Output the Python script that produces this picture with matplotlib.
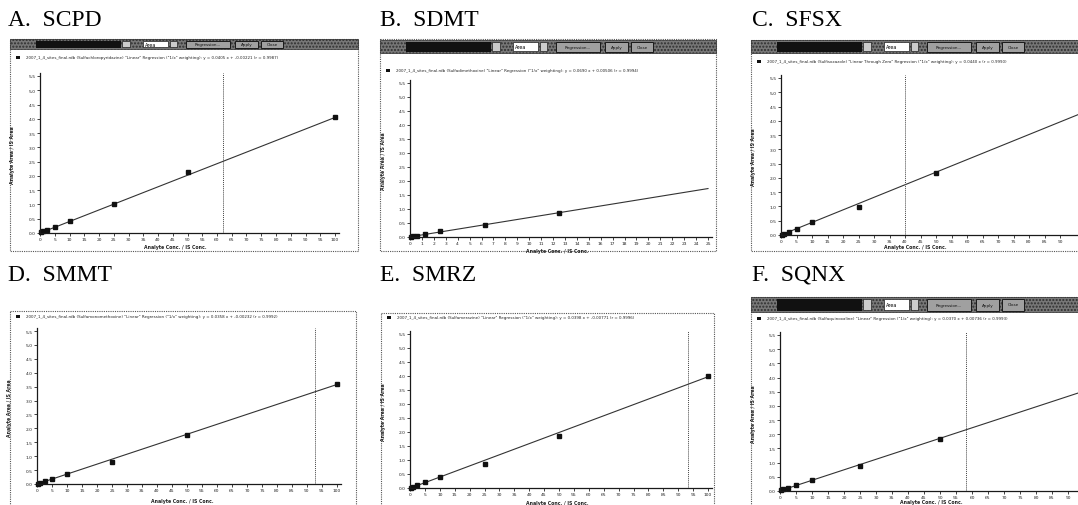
import numpy as np
import matplotlib.pyplot as plt
from matplotlib.patches import Rectangle

W, H = 1078, 506

titles = ['A.  SCPD', 'B.  SDMT', 'C.  SFSX', 'D.  SMMT', 'E.  SMRZ', 'F.  SQNX']
drugs = ['Sulfachloropyridazine', 'Sulfadimethoxine', 'Sulfisoxazole',
         'Sulfamonomethoxine', 'Sulfamerazine', 'Sulfaquinoxaline']
models = ['Linear', 'Linear', 'Linear Through Zero', 'Linear', 'Linear', 'Linear']

# calibration points (analyte conc / IS conc vs analyte area / IS area)
conc_a = [0.25, 1, 2.5, 5, 10, 25, 50, 100]
ratio_a = [0.02, 0.06, 0.12, 0.22, 0.43, 1.00, 2.15, 4.05]
conc_b = [0.125, 0.25, 0.625, 1.25, 2.5, 6.25, 12.5]
ratio_b = [0.01, 0.03, 0.05, 0.09, 0.21, 0.42, 0.86]
conc_c = [0.25, 1, 2.5, 5, 10, 25, 50]
ratio_c = [0.01, 0.04, 0.10, 0.21, 0.44, 0.99, 2.18]
conc_d = [0.25, 1, 2.5, 5, 10, 25, 50, 100]
ratio_d = [0.01, 0.03, 0.09, 0.17, 0.35, 0.79, 1.77, 3.60]
conc_e = [0.25, 1, 2.5, 5, 10, 25, 50, 100]
ratio_e = [0.01, 0.04, 0.10, 0.20, 0.40, 0.87, 1.85, 4.00]
conc_f = [0.25, 1, 2.5, 5, 10, 25, 50]
ratio_f = [0.03, 0.06, 0.12, 0.20, 0.40, 0.87, 1.83]

concs = [conc_a, conc_b, conc_c, conc_d, conc_e, conc_f]
ratios = [ratio_a, ratio_b, ratio_c, ratio_d, ratio_e, ratio_f]
slopes = [0.0405, 0.0690, 0.0440, 0.0358, 0.0398, 0.0370]
intercepts = [-0.00221, 0.00506, 0.0, -0.00232, -0.00771, 0.00736]
r_values = [0.9987, 0.9994, 0.9990, 0.9992, 0.9996, 0.9993]
x_max = [100, 25, 100, 100, 100, 100]
x_step = [5, 1, 5, 5, 5, 5]
cursor = [62, None, 40, 92.5, 93.3, 58]

# layout in pixels: title xy, box, toolbar, legend row y, plot (x0, x1, y0, y1), x-label xy
title_xy = [(8, 26), (380, 26), (752, 26), (8, 281), (380, 281), (752, 281)]
boxes = [(10, 40, 358, 252), (380, 40, 716, 252), (751, 41, 1080, 252),
         (10, 312, 356, 508), (381, 314, 714, 508), (751, 298, 1080, 508)]
toolbars = [(10, 40, 358, 50), (380, 41, 716, 54), (751, 41, 1080, 54),
            None, None, (751, 298, 1080, 313)]
legend_y = [58, 71, 62, 317, 318, 319]
plot_px = [(40, 335, 234, 77), (410, 708, 238, 84), (781, 1091, 236, 79),
           (37, 337, 485, 332), (410, 708, 489, 335), (780, 1100, 492, 336)]
xlabel_xy = [(175, 247), (557, 251.5), (915, 248), (182, 502), (557, 504), (931, 503)]

fig = plt.figure(figsize=(W / 100, H / 100), dpi=100)
ov = fig.add_axes([0, 0, 1, 1])
ov.set_xlim(0, W)
ov.set_ylim(H, 0)
ov.axis('off')

for i in range(6):
    tx, ty = title_xy[i]
    ov.text(tx, ty, titles[i], fontsize=17, family='Liberation Serif', va='baseline')

    bx0, by0, bx1, by1 = boxes[i]
    ov.add_patch(Rectangle((bx0, by0), bx1 - bx0, by1 - by0, fill=False,
                           ls=(0, (1, 1)), ec='#555555', lw=0.8))

    tb = toolbars[i]
    if tb is not None:
        t0, u0, t1, u1 = tb
        hh = u1 - u0
        ov.add_patch(Rectangle((t0, u0), t1 - t0, hh, fc='#777777', ec='#2e2e2e',
                               hatch='.....', lw=0.5))
        ov.add_patch(Rectangle((t0 + 26, u0 + 1.5), 85, hh - 3, fc='#111111', ec='none'))
        ov.add_patch(Rectangle((t0 + 112, u0 + 2), 8, hh - 4, fc='#cccccc', ec='#222222', lw=0.5))
        ov.add_patch(Rectangle((t0 + 133, u0 + 2), 25, hh - 4, fc='white', ec='#222222', lw=0.5))
        ov.text(t0 + 135, u0 + hh / 2, 'Area', fontsize=3.5, va='center')
        ov.add_patch(Rectangle((t0 + 160, u0 + 2), 7, hh - 4, fc='#cccccc', ec='#222222', lw=0.5))
        for bx, bw, lab in [(176, 44, 'Regression...'), (225, 23, 'Apply'), (251, 22, 'Close')]:
            ov.add_patch(Rectangle((t0 + bx, u0 + 1.5), bw, hh - 3, fc='#a0a0a0',
                                   ec='#1a1a1a', lw=0.7))
            ov.text(t0 + bx + bw / 2, u0 + hh / 2, lab, fontsize=3, ha='center', va='center',
                    color='#111111', zorder=5)

    ly = legend_y[i]
    ov.add_patch(Rectangle((bx0 + 6, ly - 1.5), 4, 3, fc='#111111', ec='none'))
    if models[i] == 'Linear Through Zero':
        eq = 'y = %.4f x' % slopes[i]
    else:
        eq = 'y = %.4f x + %.5f' % (slopes[i], intercepts[i])
    leg = ('2007_1_4_sites_final.rdb (%s) "%s" Regression ("1/x" weighting): %s (r = %.4f)'
           % (drugs[i], models[i], eq, r_values[i]))
    ov.text(bx0 + 16, ly, leg, fontsize=2.9, va='center', color='#222222')

    # plot area
    x0, x1, y0, y1 = plot_px[i]
    xm = x_max[i]
    xhi = xm * 1.015
    yhi = 5.62
    rect = [x0 / W, 1 - y0 / H, (x1 - x0) / W * xhi / xm, (y0 - y1) / H * yhi / 5.5]
    ax = fig.add_axes(rect)
    ax.patch.set_visible(False)
    ax.set_xlim(0, xhi)
    ax.set_ylim(0, yhi)
    for s in ['top', 'right']:
        ax.spines[s].set_visible(False)
    for s in ['left', 'bottom']:
        ax.spines[s].set_linewidth(0.9)
        ax.spines[s].set_color('#1a1a1a')
    ticks = np.arange(0, xm + 0.1, x_step[i])
    ticks = ticks[x0 + ticks * (x1 - x0) / xm < W - 5]
    ax.set_xticks(ticks)
    ax.set_xticklabels(['%d' % v for v in ticks])
    ax.set_yticks(np.arange(0, 5.51, 0.5))
    ax.set_yticklabels(['%.1f' % v for v in np.arange(0, 5.51, 0.5)])
    ax.tick_params(length=2, width=0.6, pad=1.2, labelsize=3.2, colors='#222222')

    xs = np.array([0, xm])
    ax.plot(xs, slopes[i] * xs + intercepts[i], color='#333333', lw=0.8)
    ax.plot(concs[i], ratios[i], 's', color='#111111', ms=3.0, clip_on=False)
    if cursor[i] is not None:
        ax.axvline(cursor[i], color='#444444', lw=0.7, ls=(0, (1, 1)))

    lx, lyy = xlabel_xy[i]
    ov.text(lx, lyy, 'Analyte Conc. / IS Conc.', fontsize=3.3, ha='center', va='center',
            color='#222222', fontweight='bold')
    ov.text(x0 - 27, (y0 + y1) / 2, 'Analyte Area / IS Area', fontsize=3.3, ha='center',
            va='center', rotation=90, color='#222222', fontweight='bold')

fig.savefig('out.png', dpi=100)
